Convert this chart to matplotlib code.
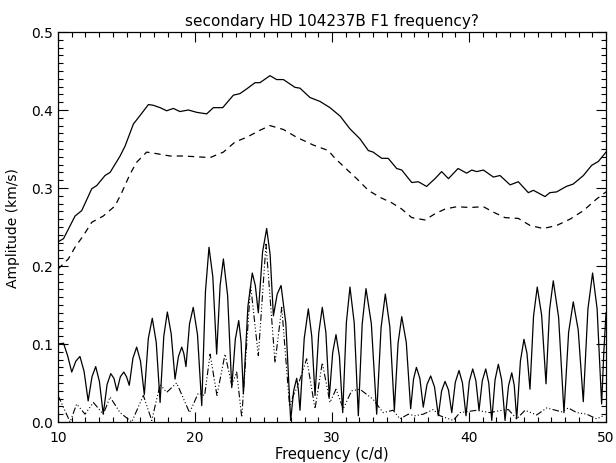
import matplotlib
matplotlib.use("Agg")
import matplotlib.pyplot as plt
from matplotlib.ticker import MultipleLocator

# upper envelope (solid)
env_x = [10.0, 10.4, 11.24, 11.73, 12.46, 12.82, 13.43, 13.8, 14.53, 14.9, 15.5, 15.99,
         16.6, 16.96, 17.45, 17.93, 18.42, 18.9, 19.51, 20.12, 20.85, 21.34, 22.02, 22.8,
         23.28, 23.77, 24.38, 24.74, 25.47, 25.96, 26.45, 27.3, 27.66, 28.39, 29.12, 29.85,
         30.6, 31.3, 32.04, 32.65, 33.0, 33.63, 34.1, 34.72, 35.09, 35.82, 36.3, 36.9,
         37.52, 38.0, 38.5, 39.2, 39.83, 40.2, 40.56, 41.05, 41.78, 42.26, 43.0, 43.6,
         44.33, 44.7, 45.55, 45.9, 46.4, 47.1, 47.6, 48.35, 48.95, 49.44, 50.0]
env_y = [0.231, 0.235, 0.264, 0.271, 0.299, 0.303, 0.316, 0.320, 0.341, 0.354, 0.382, 0.393,
         0.407, 0.406, 0.403, 0.399, 0.402, 0.398, 0.400, 0.397, 0.395, 0.403, 0.403, 0.419,
         0.421, 0.427, 0.435, 0.435, 0.444, 0.439, 0.439, 0.429, 0.428, 0.416, 0.411, 0.403,
         0.392, 0.376, 0.363, 0.348, 0.346, 0.338, 0.338, 0.325, 0.323, 0.307, 0.308, 0.302,
         0.312, 0.321, 0.312, 0.325, 0.319, 0.323, 0.321, 0.323, 0.314, 0.316, 0.304, 0.308,
         0.294, 0.297, 0.289, 0.294, 0.295, 0.302, 0.305, 0.316, 0.329, 0.334, 0.346]

# lower envelope (dashed)
lim_x = [10.0, 10.75, 11.24, 11.85, 12.46, 13.3, 14.16, 14.65, 15.26, 15.74, 16.47, 17.2,
         18.18, 19.15, 20.12, 21.1, 22.07, 22.92, 23.77, 24.74, 25.47, 26.45, 27.42, 28.64,
         29.73, 30.22, 31.07, 31.8, 32.65, 33.5, 34.36, 35.09, 35.82, 36.79, 37.52, 38.25,
         39.1, 40.07, 41.05, 41.78, 42.63, 43.6, 44.45, 45.42, 46.4, 47.37, 48.35, 49.32, 50.0]
lim_y = [0.196, 0.209, 0.224, 0.239, 0.256, 0.264, 0.277, 0.294, 0.318, 0.333, 0.346, 0.344,
         0.341, 0.341, 0.340, 0.339, 0.346, 0.359, 0.365, 0.374, 0.380, 0.375, 0.365, 0.355,
         0.348, 0.338, 0.324, 0.312, 0.297, 0.288, 0.281, 0.273, 0.262, 0.259, 0.267, 0.273,
         0.276, 0.275, 0.276, 0.269, 0.262, 0.261, 0.252, 0.248, 0.252, 0.260, 0.271, 0.286, 0.295]

# amplitude spectrum (solid): troughs, shoulders and peaks
amp_x = [10.0, 10.4, 10.7, 11.0, 11.3, 11.6, 11.9, 12.2, 12.48, 12.75, 13.02, 13.3,
         13.58, 13.85, 14.08, 14.3, 14.55, 14.8, 15.0, 15.2, 15.47, 15.74, 16.02, 16.3,
         16.59, 16.88, 17.17, 17.45, 17.72, 17.98, 18.26, 18.54, 18.79, 19.03, 19.18, 19.34,
         19.6, 19.87, 20.18, 20.49, 20.76, 21.02, 21.3, 21.58, 21.83, 22.07, 22.38, 22.68,
         22.94, 23.19, 23.36, 23.53, 23.86, 24.18, 24.4, 24.62, 24.93, 25.23, 25.48, 25.72,
         26.0, 26.28, 26.63, 26.98, 27.2, 27.42, 27.54, 27.66, 27.97, 28.27, 28.52, 28.76,
         29.03, 29.29, 29.55, 29.8, 30.05, 30.29, 30.54, 30.78, 31.05, 31.31, 31.62, 31.92,
         32.2, 32.48, 32.87, 33.26, 33.58, 33.89, 34.22, 34.55, 34.82, 35.09, 35.42, 35.74,
         35.95, 36.16, 36.41, 36.66, 36.93, 37.2, 37.48, 37.76, 38.0, 38.25, 38.5, 38.74,
         39.0, 39.27, 39.52, 39.78, 40.02, 40.27, 40.5, 40.73, 40.97, 41.22, 41.44, 41.66,
         41.9, 42.14, 42.38, 42.63, 42.88, 43.12, 43.3, 43.48, 43.75, 44.01, 44.23, 44.45,
         44.71, 44.98, 45.3, 45.62, 45.88, 46.15, 46.54, 46.93, 47.27, 47.61, 47.97, 48.34,
         48.68, 49.02, 49.35, 49.68, 49.84, 50.0]
amp_y = [0.100, 0.101, 0.085, 0.064, 0.078, 0.084, 0.065, 0.027, 0.058, 0.071, 0.052, 0.010,
         0.048, 0.062, 0.056, 0.040, 0.058, 0.064, 0.058, 0.047, 0.082, 0.096, 0.078, 0.035,
         0.107, 0.133, 0.102, 0.025, 0.110, 0.141, 0.113, 0.055, 0.084, 0.096, 0.088, 0.071,
         0.126, 0.147, 0.112, 0.021, 0.167, 0.224, 0.186, 0.087, 0.175, 0.209, 0.162, 0.044,
         0.106, 0.130, 0.103, 0.036, 0.148, 0.191, 0.175, 0.140, 0.218, 0.248, 0.215, 0.136,
         0.164, 0.175, 0.126, 0.002, 0.040, 0.056, 0.042, 0.015, 0.107, 0.145, 0.110, 0.034,
         0.114, 0.147, 0.115, 0.032, 0.089, 0.112, 0.084, 0.012, 0.128, 0.173, 0.127, 0.008,
         0.125, 0.171, 0.126, 0.010, 0.121, 0.164, 0.122, 0.015, 0.101, 0.135, 0.102, 0.017,
         0.055, 0.070, 0.056, 0.019, 0.048, 0.059, 0.045, 0.008, 0.040, 0.052, 0.041, 0.012,
         0.051, 0.066, 0.050, 0.008, 0.052, 0.068, 0.053, 0.015, 0.053, 0.068, 0.050, 0.002,
         0.054, 0.074, 0.054, 0.002, 0.046, 0.063, 0.047, 0.004, 0.078, 0.106, 0.088, 0.042,
         0.136, 0.173, 0.137, 0.049, 0.144, 0.181, 0.134, 0.012, 0.115, 0.154, 0.118, 0.026,
         0.145, 0.191, 0.145, 0.023, 0.090, 0.140]

# residual spectrum (dash-dot-dot)
res_x = [10.0, 10.88, 11.36, 11.97, 12.58, 13.3, 13.8, 14.53, 15.38, 16.23, 16.84, 17.45,
         17.93, 18.66, 19.6, 20.24, 20.7, 21.1, 21.6, 22.19, 22.68, 23.04, 23.41, 24.06,
         24.62, 25.18, 25.84, 26.33, 26.9, 27.17, 27.5, 28.15, 28.76, 29.29, 29.85, 30.29,
         30.82, 31.43, 32.04, 33.0, 33.73, 34.46, 34.96, 35.57, 36.06, 36.66, 37.39, 37.88,
         38.85, 39.34, 40.56, 41.53, 42.39, 42.87, 43.48, 44.09, 44.94, 45.67, 46.77, 47.25,
         47.86, 48.59, 49.32, 49.8]
res_y = [0.034, 0.000, 0.023, 0.010, 0.025, 0.010, 0.032, 0.012, 0.000, 0.034, 0.002, 0.048,
         0.038, 0.050, 0.012, 0.037, 0.034, 0.087, 0.034, 0.087, 0.047, 0.064, 0.006, 0.175,
         0.085, 0.228, 0.076, 0.147, 0.020, 0.034, 0.046, 0.081, 0.017, 0.076, 0.025, 0.042,
         0.017, 0.040, 0.042, 0.029, 0.012, 0.015, 0.004, 0.010, 0.008, 0.010, 0.016, 0.008,
         0.002, 0.012, 0.015, 0.012, 0.015, 0.016, 0.004, 0.015, 0.009, 0.018, 0.013, 0.018,
         0.012, 0.010, 0.004, 0.008]


def main():
    plt.rcParams["font.family"] = "DejaVu Sans"
    fig = plt.figure(figsize=(6.16, 4.64), dpi=100)
    ax = fig.add_axes([0.0942, 0.0884, 0.8896, 0.8405])

    lw = 0.9
    ax.plot(env_x, env_y, color="black", lw=lw)
    ax.plot(lim_x, lim_y, color="black", lw=lw, dashes=(5, 4))
    ax.plot(amp_x, amp_y, color="black", lw=lw)
    ax.plot(res_x, res_y, color="black", lw=0.8, dashes=(6, 2, 1, 2, 1, 2, 1, 2))

    ax.set_xlim(10, 50)
    ax.set_ylim(0, 0.5)
    ax.xaxis.set_major_locator(MultipleLocator(10))
    ax.xaxis.set_minor_locator(MultipleLocator(1))
    ax.yaxis.set_major_locator(MultipleLocator(0.1))
    ax.yaxis.set_minor_locator(MultipleLocator(0.01))
    ax.xaxis.set_major_formatter(plt.FuncFormatter(lambda v, p: f"{v:.0f}"))
    ax.yaxis.set_major_formatter(plt.FuncFormatter(lambda v, p: f"{v:.1f}"))
    ax.tick_params(which="both", direction="in", top=True, right=True,
                   width=0.8, labelsize=10, colors="black")
    ax.tick_params(which="major", length=7)
    ax.tick_params(which="minor", length=3.5)
    ax.tick_params(axis="x", pad=6)
    for s in ax.spines.values():
        s.set_linewidth(0.9)

    ax.set_xlabel("Frequency (c/d)", fontsize=10.5, labelpad=1)
    ax.set_ylabel("Amplitude (km/s)", fontsize=10, labelpad=8)
    ax.set_title("secondary HD 104237B F1 frequency?", fontsize=11, pad=5)

    fig.savefig("out.png", dpi=100)
    plt.close(fig)


if __name__ == "__main__":
    main()
